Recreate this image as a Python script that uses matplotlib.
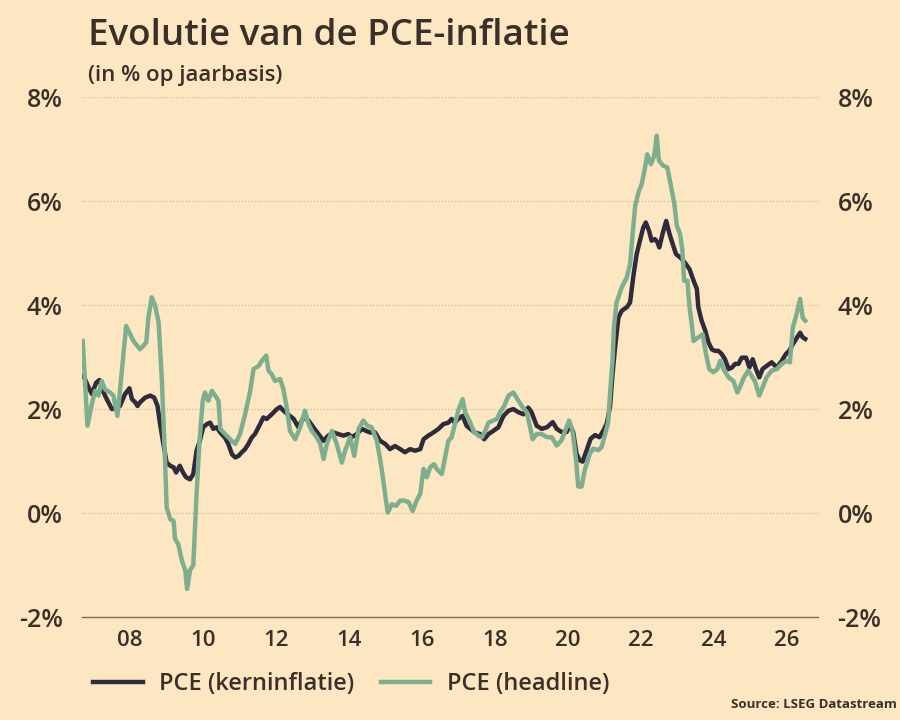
import numpy as np
import matplotlib
matplotlib.use("Agg")
import matplotlib.pyplot as plt

# colours
bg = "#fde6c2"
ink = "#3a3029"
core_color = "#2f2b3d"
head_color = "#7daf8f"
grid_color = "#cdbb9c"

# data (decimal years, % y/y)
head_dates = [2006.70, 2006.83, 2006.95, 2007.04, 2007.13, 2007.22, 2007.31, 2007.45, 2007.54, 2007.65,
              2007.72, 2007.89, 2008.09, 2008.27, 2008.44, 2008.50, 2008.59, 2008.68, 2008.78, 2008.87,
              2008.96, 2009.00, 2009.10, 2009.19, 2009.23, 2009.32, 2009.42, 2009.51, 2009.56, 2009.64,
              2009.73, 2009.82, 2009.90, 2009.99, 2010.05, 2010.14, 2010.24, 2010.33, 2010.42, 2010.47,
              2010.60, 2010.74, 2010.88, 2011.01, 2011.15, 2011.29, 2011.38, 2011.52, 2011.61, 2011.73,
              2011.79, 2011.88, 2011.97, 2012.11, 2012.20, 2012.29, 2012.38, 2012.52, 2012.66, 2012.79,
              2012.89, 2012.98, 2013.11, 2013.21, 2013.30, 2013.39, 2013.53, 2013.66, 2013.80, 2013.89,
              2014.03, 2014.14, 2014.26, 2014.39, 2014.50, 2014.62, 2014.76, 2014.85, 2014.94, 2015.01,
              2015.06, 2015.17, 2015.29, 2015.40, 2015.51, 2015.63, 2015.74, 2015.85, 2015.95, 2016.04,
              2016.13, 2016.22, 2016.33, 2016.40, 2016.54, 2016.63, 2016.72, 2016.81, 2016.90, 2016.99,
              2017.11, 2017.18, 2017.32, 2017.41, 2017.54, 2017.64, 2017.73, 2017.82, 2017.95, 2018.05,
              2018.14, 2018.25, 2018.37, 2018.50, 2018.64, 2018.73, 2018.87, 2018.96, 2019.03, 2019.14,
              2019.28, 2019.42, 2019.55, 2019.69, 2019.82, 2019.94, 2020.03, 2020.12, 2020.22, 2020.28,
              2020.37, 2020.46, 2020.60, 2020.69, 2020.83, 2020.92, 2021.01, 2021.10, 2021.15, 2021.22,
              2021.26, 2021.33, 2021.47, 2021.61, 2021.70, 2021.77, 2021.84, 2021.93, 2022.02, 2022.11,
              2022.17, 2022.27, 2022.36, 2022.43, 2022.49, 2022.61, 2022.72, 2022.81, 2022.91, 2022.98,
              2023.07, 2023.13, 2023.18, 2023.27, 2023.33, 2023.39, 2023.44, 2023.57, 2023.69, 2023.78,
              2023.87, 2023.98, 2024.09, 2024.17, 2024.26, 2024.40, 2024.53, 2024.64, 2024.71, 2024.82,
              2024.94, 2025.03, 2025.12, 2025.24, 2025.33, 2025.44, 2025.58, 2025.72, 2025.86, 2025.99,
              2026.08, 2026.16, 2026.25, 2026.36, 2026.43, 2026.50]
head_vals = [3.31, 1.68, 2.10, 2.35, 2.26, 2.54, 2.38, 2.32, 2.26, 1.87,
             2.35, 3.60, 3.31, 3.15, 3.28, 3.76, 4.15, 4.00, 3.67, 2.54,
             0.94, 0.11, -0.12, -0.15, -0.50, -0.60, -0.92, -1.10, -1.46, -1.10,
             -1.00, 0.37, 1.39, 2.16, 2.32, 2.16, 2.35, 2.26, 2.16, 1.62,
             1.52, 1.42, 1.33, 1.52, 1.90, 2.35, 2.77, 2.83, 2.93, 3.03,
             2.74, 2.67, 2.54, 2.58, 2.38, 2.03, 1.58, 1.42, 1.65, 1.97,
             1.71, 1.58, 1.46, 1.33, 1.04, 1.33, 1.58, 1.33, 0.97, 1.20,
             1.46, 1.10, 1.62, 1.78, 1.68, 1.65, 1.39, 1.04, 0.62, 0.24,
             0.01, 0.17, 0.14, 0.24, 0.24, 0.21, 0.04, 0.24, 0.37, 0.85,
             0.69, 0.88, 0.94, 0.85, 0.75, 1.07, 1.39, 1.46, 1.71, 1.97,
             2.19, 1.94, 1.74, 1.58, 1.49, 1.46, 1.58, 1.74, 1.78, 1.81,
             1.94, 2.06, 2.26, 2.32, 2.16, 2.06, 1.94, 1.65, 1.42, 1.52,
             1.52, 1.46, 1.46, 1.30, 1.40, 1.62, 1.78, 1.59, 1.02, 0.51,
             0.51, 0.83, 1.15, 1.24, 1.21, 1.27, 1.50, 1.75, 2.29, 2.95,
             3.60, 4.05, 4.34, 4.53, 4.79, 5.37, 5.91, 6.17, 6.33, 6.65,
             6.90, 6.71, 6.87, 7.26, 6.78, 6.68, 6.65, 6.33, 5.97, 5.53,
             5.37, 5.08, 4.47, 4.47, 3.96, 3.63, 3.31, 3.38, 3.44, 3.06,
             2.77, 2.71, 2.77, 2.93, 2.77, 2.61, 2.54, 2.32, 2.42, 2.61,
             2.74, 2.64, 2.54, 2.26, 2.42, 2.61, 2.74, 2.77, 2.87, 2.93,
             2.90, 3.57, 3.79, 4.12, 3.76, 3.70]

core_dates = [2006.72, 2006.86, 2006.95, 2007.07, 2007.16, 2007.25, 2007.36, 2007.50, 2007.63, 2007.72,
              2007.86, 2007.98, 2008.05, 2008.14, 2008.20, 2008.27, 2008.41, 2008.55, 2008.66, 2008.75,
              2008.82, 2008.91, 2009.00, 2009.10, 2009.19, 2009.26, 2009.36, 2009.45, 2009.53, 2009.64,
              2009.73, 2009.82, 2009.91, 2010.00, 2010.10, 2010.19, 2010.28, 2010.37, 2010.47, 2010.60,
              2010.69, 2010.79, 2010.88, 2010.97, 2011.06, 2011.15, 2011.24, 2011.33, 2011.42, 2011.56,
              2011.65, 2011.74, 2011.88, 2012.02, 2012.11, 2012.20, 2012.34, 2012.48, 2012.61, 2012.75,
              2012.89, 2013.02, 2013.16, 2013.30, 2013.43, 2013.57, 2013.71, 2013.84, 2013.98, 2014.07,
              2014.21, 2014.35, 2014.47, 2014.58, 2014.71, 2014.85, 2014.99, 2015.12, 2015.26, 2015.40,
              2015.53, 2015.67, 2015.81, 2015.95, 2016.04, 2016.17, 2016.31, 2016.45, 2016.58, 2016.72,
              2016.81, 2016.90, 2016.99, 2017.11, 2017.22, 2017.32, 2017.45, 2017.59, 2017.70, 2017.82,
              2017.95, 2018.09, 2018.23, 2018.37, 2018.50, 2018.64, 2018.78, 2018.91, 2019.00, 2019.14,
              2019.28, 2019.42, 2019.58, 2019.69, 2019.82, 2019.96, 2020.05, 2020.14, 2020.23, 2020.31,
              2020.40, 2020.51, 2020.62, 2020.74, 2020.86, 2020.97, 2021.06, 2021.15, 2021.22, 2021.29,
              2021.38, 2021.47, 2021.61, 2021.70, 2021.79, 2021.88, 2021.97, 2022.06, 2022.13, 2022.22,
              2022.29, 2022.38, 2022.45, 2022.50, 2022.60, 2022.69, 2022.78, 2022.87, 2022.96, 2023.07,
              2023.16, 2023.23, 2023.33, 2023.44, 2023.53, 2023.57, 2023.66, 2023.76, 2023.85, 2023.94,
              2024.03, 2024.12, 2024.21, 2024.30, 2024.40, 2024.49, 2024.58, 2024.67, 2024.76, 2024.88,
              2024.97, 2025.06, 2025.15, 2025.24, 2025.33, 2025.44, 2025.58, 2025.72, 2025.86, 2025.97,
              2026.06, 2026.16, 2026.25, 2026.36, 2026.43, 2026.50]
core_vals = [2.64, 2.42, 2.29, 2.51, 2.56, 2.35, 2.19, 2.00, 2.03, 2.06,
             2.29, 2.40, 2.19, 2.13, 2.06, 2.13, 2.22, 2.26, 2.22, 2.06,
             1.71, 1.33, 0.97, 0.91, 0.88, 0.78, 0.91, 0.78, 0.69, 0.65,
             0.75, 1.20, 1.39, 1.65, 1.71, 1.74, 1.62, 1.65, 1.55, 1.45,
             1.33, 1.13, 1.07, 1.10, 1.17, 1.23, 1.33, 1.45, 1.52, 1.71,
             1.84, 1.81, 1.90, 2.00, 2.04, 1.97, 1.89, 1.81, 1.65, 1.84,
             1.78, 1.65, 1.52, 1.39, 1.49, 1.55, 1.52, 1.49, 1.52, 1.46,
             1.52, 1.62, 1.58, 1.55, 1.55, 1.39, 1.33, 1.23, 1.29, 1.23,
             1.17, 1.23, 1.20, 1.23, 1.42, 1.49, 1.55, 1.62, 1.71, 1.74,
             1.81, 1.74, 1.81, 1.87, 1.68, 1.62, 1.55, 1.52, 1.42, 1.52,
             1.58, 1.65, 1.87, 1.97, 2.00, 1.94, 1.90, 2.03, 1.94, 1.68,
             1.62, 1.65, 1.75, 1.62, 1.56, 1.56, 1.69, 1.56, 1.15, 1.02,
             0.99, 1.21, 1.43, 1.50, 1.46, 1.59, 1.72, 2.04, 2.68, 3.19,
             3.76, 3.89, 3.96, 4.05, 4.56, 4.98, 5.24, 5.49, 5.59, 5.43,
             5.24, 5.27, 5.21, 5.11, 5.40, 5.62, 5.37, 5.17, 4.98, 4.92,
             4.85, 4.79, 4.69, 4.47, 4.31, 3.96, 3.70, 3.51, 3.28, 3.15,
             3.12, 3.12, 3.06, 2.96, 2.77, 2.80, 2.87, 2.87, 2.99, 2.99,
             2.80, 2.96, 2.77, 2.61, 2.77, 2.83, 2.90, 2.80, 2.93, 3.06,
             3.12, 3.25, 3.35, 3.47, 3.38, 3.35]

year_ticks = [2008, 2010, 2012, 2014, 2016, 2018, 2020, 2022, 2024, 2026]
year_labels = ["08", "10", "12", "14", "16", "18", "20", "22", "24", "26"]
y_ticks = [-2, 0, 2, 4, 6, 8]
y_labels = ["-2%", "0%", "2%", "4%", "6%", "8%"]

plt.rcParams["font.family"] = ["Open Sans", "DejaVu Sans"]

fig = plt.figure(figsize=(9, 7.2), dpi=100, facecolor=bg)
ax = fig.add_axes([0.0911, 0.143, 0.8178, 0.722])
ax.set_facecolor(bg)

ax.plot(core_dates, core_vals, color=core_color, lw=3.2, solid_joinstyle="round",
        label="PCE (kerninflatie)", zorder=3)
ax.plot(head_dates, head_vals, color=head_color, lw=3.2, solid_joinstyle="round",
        label="PCE (headline)", zorder=4)

ax.set_xlim(2006.68, 2026.85)
ax.set_ylim(-2, 8)

# dotted horizontal grid, solid base line
for v in y_ticks[1:]:
    ax.axhline(v, color=grid_color, lw=0.9, ls=(0, (1, 1.5)), zorder=1)
for s in ["top", "right", "left"]:
    ax.spines[s].set_visible(False)
ax.spines["bottom"].set_color("#7a6b58")
ax.spines["bottom"].set_linewidth(1.0)

ax.set_xticks(year_ticks)
ax.set_xticklabels(year_labels, fontsize=16, color=ink, fontweight="semibold")
ax.tick_params(axis="x", length=0, pad=9)

ax.set_yticks(y_ticks)
ax.set_yticklabels(y_labels, fontsize=18, color=ink, fontweight="semibold")
ax.tick_params(axis="y", length=0, pad=14, labelright=True, right=False)
for lab in ax.get_yticklabels():
    lab.set_color(ink)

fig.text(0.098, 0.938, "Evolutie van de PCE-inflatie", fontsize=26.5, fontweight="semibold",
         color=ink, ha="left", va="baseline")
fig.text(0.098, 0.888, "(in % op jaarbasis)", fontsize=16, fontweight="semibold",
         color=ink, ha="left", va="baseline")

leg = fig.legend(loc="center left", bbox_to_anchor=(0.08, 0.05), ncol=2, frameon=False,
                 fontsize=17, handlelength=2.1, handletextpad=0.7, columnspacing=1.1)
for t in leg.get_texts():
    t.set_color(ink)
    t.set_fontweight("semibold")

fig.text(0.997, 0.012, "Source: LSEG Datastream", fontsize=9.5, fontweight="bold",
         color=ink, ha="right", va="bottom")

fig.savefig("out.png", dpi=100, facecolor=bg)
